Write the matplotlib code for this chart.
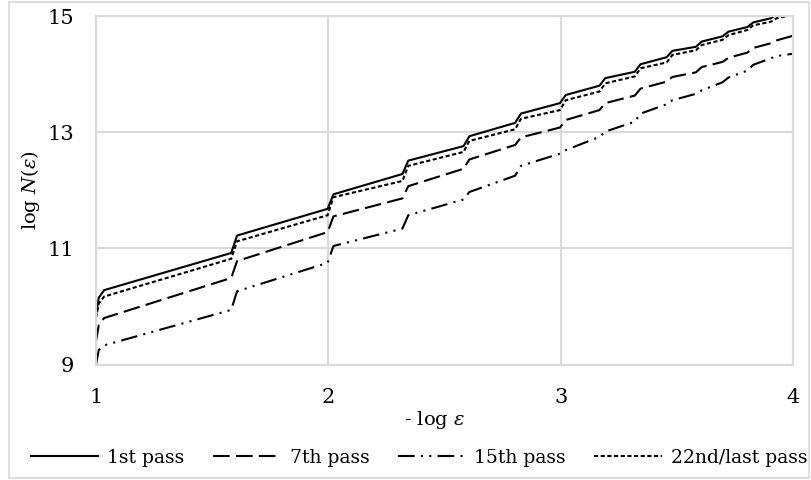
import matplotlib
matplotlib.use("Agg")
import matplotlib.pyplot as plt
from matplotlib.patches import Rectangle

plt.rcParams['font.family'] = ['DejaVu Serif']
plt.rcParams['mathtext.fontset'] = 'dejavuserif'

# -log eps breakpoints (value just before / just after each step)
x_vals = [1.000, 1.012, 1.035,
          1.582, 1.607,
          1.997, 2.022,
          2.319, 2.344,
          2.582, 2.607,
          2.804, 2.829,
          2.997, 3.022,
          3.167, 3.192,
          3.319, 3.344,
          3.456, 3.481,
          3.582, 3.607,
          3.697, 3.722,
          3.804, 3.829,
          3.904, 3.929,
          4.000]

pass_1 = [9.85, 10.15, 10.28,
          10.92, 11.22,
          11.68, 11.93,
          12.28, 12.51,
          12.76, 12.93,
          13.16, 13.32,
          13.50, 13.64,
          13.80, 13.93,
          14.04, 14.17,
          14.29, 14.40,
          14.47, 14.56,
          14.65, 14.73,
          14.81, 14.89,
          14.96, 15.03,
          15.10]

pass_7 = [9.40, 9.68, 9.80,
          10.49, 10.78,
          11.28, 11.55,
          11.86, 12.07,
          12.37, 12.53,
          12.78, 12.91,
          13.08, 13.21,
          13.38, 13.50,
          13.63, 13.75,
          13.87, 13.95,
          14.03, 14.12,
          14.21, 14.28,
          14.37, 14.45,
          14.53, 14.58,
          14.66]

pass_15 = [9.00, 9.25, 9.33,
           9.94, 10.26,
           10.75, 11.04,
           11.34, 11.57,
           11.84, 11.97,
           12.25, 12.42,
           12.63, 12.69,
           12.92, 13.01,
           13.18, 13.32,
           13.48, 13.55,
           13.66, 13.72,
           13.86, 13.94,
           14.06, 14.16,
           14.27, 14.31,
           14.35]

pass_22 = [9.80, 10.05, 10.17,
           10.82, 11.12,
           11.57, 11.88,
           12.16, 12.42,
           12.66, 12.85,
           13.05, 13.23,
           13.38, 13.55,
           13.70, 13.84,
           13.96, 14.10,
           14.20, 14.33,
           14.41, 14.50,
           14.59, 14.67,
           14.76, 14.84,
           14.90, 14.96,
           15.02]

labels = ["1st pass", "7th pass", "15th pass", "22nd/last pass"]
x_ticks = [1, 2, 3, 4]
y_ticks = [9, 11, 13, 15]

GRID = "#D9D9D9"

fig = plt.figure(figsize=(8.11, 4.8), dpi=100)
fig.patches.append(Rectangle((9 / 811, 2 / 480), 800 / 811, 476 / 480,
                             transform=fig.transFigure, fill=False,
                             edgecolor=GRID, lw=1.2))

ax = fig.add_axes([96 / 811, 1 - 364.5 / 480, 697 / 811, 348.5 / 480])

lw = 1.5
style = dict(color="black", lw=lw, solid_joinstyle="round", dash_joinstyle="round")
ax.plot(x_vals, pass_1, label=labels[0], **style)
ax.plot(x_vals, pass_7, dashes=(8, 3), label=labels[1], **style)
ax.plot(x_vals, pass_15, dashes=(8, 3, 1, 3, 1, 3), label=labels[2], **style)
ax.plot(x_vals, pass_22, dashes=(2, 1.2), label=labels[3], **style)

ax.set_xlim(1, 4)
ax.set_ylim(9, 15)
ax.set_xticks(x_ticks)
ax.set_yticks(y_ticks)
ax.grid(True, color=GRID, lw=1.5)
ax.set_axisbelow(True)
for s in ax.spines.values():
    s.set_color(GRID)
    s.set_linewidth(1.5)
ax.tick_params(axis="both", length=0, labelsize=15)
ax.tick_params(axis="x", pad=17)
ax.tick_params(axis="y", pad=16)

fig.text(435 / 811, 1 - 420 / 480, "- log $\\varepsilon$", ha="center", va="center", fontsize=14)
fig.text(30 / 811, 1 - 190 / 480, "log $N(\\varepsilon)$", ha="center", va="center",
         rotation=90, fontsize=14)

fig.legend(loc="center", bbox_to_anchor=(419 / 811, 1 - 458 / 480), ncol=4,
           frameon=False, fontsize=13.5, handlelength=3.6, handletextpad=0.5,
           columnspacing=1.5, borderpad=0)

fig.savefig("out.png", dpi=100)
